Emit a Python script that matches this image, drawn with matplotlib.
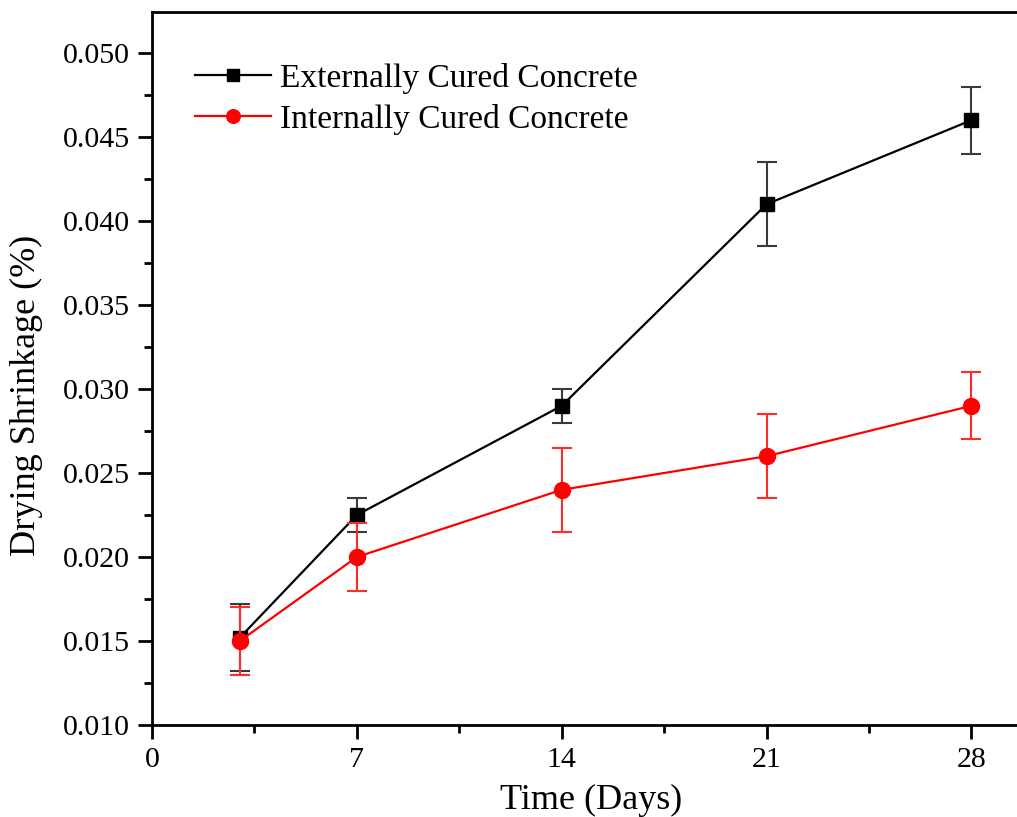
import matplotlib
matplotlib.use('Agg')
import matplotlib.pyplot as plt
from matplotlib.ticker import MultipleLocator, FormatStrFormatter

# Dados
days = [3, 7, 14, 21, 28]
external = [0.0152, 0.0225, 0.029, 0.041, 0.046]
external_err = [0.002, 0.001, 0.001, 0.0025, 0.002]
internal = [0.015, 0.020, 0.024, 0.026, 0.029]
internal_err = [0.002, 0.002, 0.0025, 0.0025, 0.002]

plt.rcParams['font.family'] = ['Liberation Serif', 'DejaVu Serif']

fig = plt.figure(figsize=(10.17, 8.17), dpi=100)
# eixo passa da borda direita da figura, como no original
ax = fig.add_axes([152 / 1017, 92 / 817, 878 / 1017, 713 / 817])

ax.errorbar(days, external, yerr=external_err, color='black', ecolor='#3a3a3a',
            marker='s', markersize=10, linewidth=1.6, elinewidth=1.5,
            capsize=7, capthick=1.5, label='Externally Cured Concrete', zorder=3)
ax.errorbar(days, internal, yerr=internal_err, color='#ff0000', ecolor='#ff2a2a',
            marker='o', markersize=11.5, linewidth=1.6, elinewidth=1.5,
            capsize=7, capthick=1.5, label='Internally Cured Concrete', zorder=4)

ax.set_xlim(0, 30)
ax.set_ylim(0.010, 0.05244)
ax.xaxis.set_major_locator(MultipleLocator(7))
ax.xaxis.set_minor_locator(MultipleLocator(3.5))
ax.yaxis.set_major_locator(MultipleLocator(0.005))
ax.yaxis.set_minor_locator(MultipleLocator(0.0025))
ax.yaxis.set_major_formatter(FormatStrFormatter('%.3f'))

ax.tick_params(which='major', direction='out', length=10, width=2, labelsize=21.5, pad=6)
ax.tick_params(which='minor', direction='out', length=6, width=2)
for s in ax.spines.values():
    s.set_linewidth(2)

ax.set_xlabel('Time (Days)', fontsize=26, labelpad=8)
ax.set_ylabel('Drying Shrinkage (%)', fontsize=26)
ax.yaxis.set_label_coords(-0.124, 0.463)

handles, labels = ax.get_legend_handles_labels()
handles = [h[0] for h in handles]
ax.legend(handles, labels, loc='upper left', bbox_to_anchor=(0.034, 0.947),
          borderaxespad=0, frameon=False, fontsize=24, handlelength=2.28,
          handletextpad=0.27, labelspacing=0.3, markerscale=0.85)

fig.savefig('out.png', dpi=100)
